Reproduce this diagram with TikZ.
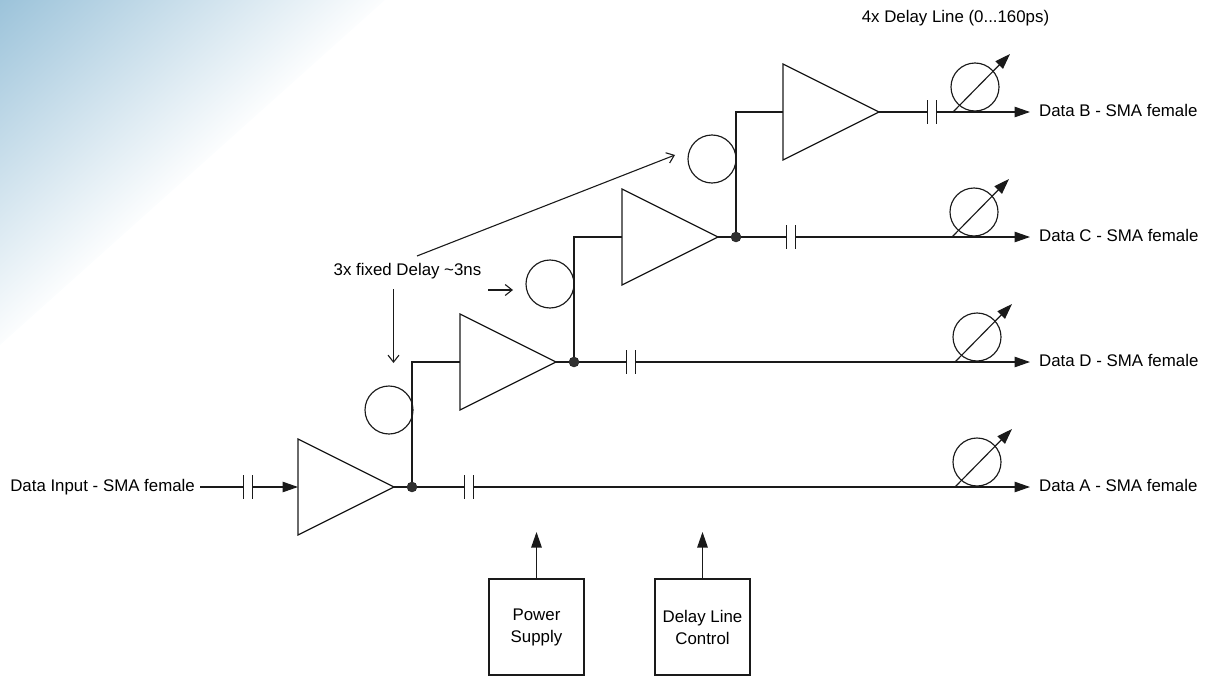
\documentclass[tikz,border=0pt]{standalone}
\usepackage{fontspec}
\setmainfont{Liberation Sans}
\usepackage{xcolor}
\usetikzlibrary{arrows.meta,positioning,shapes.geometric}
\definecolor{cornerblue}{HTML}{9CC3DA}
\definecolor{wiregray}{HTML}{1A1A1A}
\pgfdeclareverticalshading{cornerfade}{100bp}{color(0bp)=(white); color(38.6bp)=(white); color(60.7bp)=(cornerblue); color(100bp)=(cornerblue)}
\tikzset{
  wire/.style={wiregray,line width=1.15pt},
  signal/.style={wire,-{Triangle[length=15.5pt,width=10.5pt]}},
  note/.style={wiregray,line width=1.1pt,-{Straight Barb[length=7pt,width=11pt]}},
  amp/.style={draw=wiregray,line width=1.15pt,isosceles triangle,isosceles triangle stretches,
    minimum width=96pt,minimum height=96pt,inner sep=0pt,outer sep=0pt,anchor=lower side},
  delaycircle/.style={circle,draw=wiregray,line width=1.15pt,minimum size=48pt,inner sep=0pt,outer sep=0pt},
  junction/.style={circle,fill=wiregray!90,draw=wiregray,minimum size=10pt,inner sep=0pt,outer sep=0pt},
  capnode/.style={minimum width=8.5pt,minimum height=24pt,inner sep=0pt,outer sep=0pt},
  portlabel/.style={font=\fontsize{16.85}{20}\selectfont,text height=12pt,text depth=3.5pt,inner xsep=9pt,inner ysep=0pt,anchor=west},
  plainlabel/.style={font=\fontsize{16.85}{20}\selectfont,inner sep=0pt},
  supplybox/.style={draw=wiregray,line width=1.15pt,minimum width=95pt,minimum height=96pt,align=center,
    inner sep=0pt,outer sep=0pt,font=\fontsize{16.85}{22}\selectfont}
}
\begin{document}
\begin{tikzpicture}[x=1pt,y=-1pt]
\useasboundingbox (0,0) rectangle (1210,677);
% background corner
\begin{scope}
\clip (0,0) -- (385,0) -- (0,345) -- cycle;
\shade[shading=cornerfade,shading angle=42] (-214,-204.5) rectangle (386,395.5);
\end{scope}
% amplifier chain
\node[amp] (ampa) at (298,487) {};
\node[amp] (ampb) at (460,362) {};
\node[amp] (ampc) at (622,237) {};
\node[amp] (ampd) at (783,112) {};
\node[junction] (joina) at (412,487) {};
\node[junction] (joinb) at (574,362) {};
\node[junction] (joinc) at (736,237) {};
\node[delaycircle] (delaya) at (389,410) {};
\node[delaycircle] (delayb) at (550,284) {};
\node[delaycircle] (delayc) at (712,159) {};
\node[capnode] (capin) at (248,487) {};
\node[capnode] (capa) at (469,487) {};
\node[capnode] (capd) at (631,362) {};
\node[capnode] (capc) at (791,237) {};
\node[capnode] (capb) at (932,112) {};
\foreach \c in {capin,capa,capd,capc,capb}
  \draw[wire] (\c.north west) -- (\c.south west) (\c.north east) -- (\c.south east);
% labels
\node[portlabel,inner xsep=5pt,anchor=east] (input) at (200,487) {Data Input - SMA female};
\node[portlabel] (outb) at (1030,112) {Data B - SMA female};
\node[portlabel] (outc) at (1030,237) {Data C - SMA female};
\node[portlabel] (outd) at (1030,362) {Data D - SMA female};
\node[portlabel] (outa) at (1030,487) {Data A - SMA female};
\node[plainlabel] (dialnote) at (955.5,18) {4x Delay Line (0...160ps)};
\node[plainlabel] (fixednote) at (407.5,271.5) {3x fixed Delay \textasciitilde3ns};
% wires
\draw[wire] (input.east) -- (capin.west);
\draw[signal] (capin.east) -- (ampa.lower side);
\draw[wire] (ampa.apex) -- (joina) -- (capa.west);
\draw[wire] (ampb.apex) -- (joinb) -- (capd.west);
\draw[wire] (ampc.apex) -- (joinc) -- (capc.west);
\draw[wire] (ampd.apex) -- (capb.west);
\draw[wire] (joina) |- (ampb.lower side);
\draw[wire] (joinb) |- (ampc.lower side);
\draw[wire] (joinc) |- (ampd.lower side);
\draw[signal] (capb.east) -- (outb.west);
\draw[signal] (capc.east) -- (outc.west);
\draw[signal] (capd.east) -- (outd.west);
\draw[signal] (capa.east) -- (outa.west);
% delay lines
\foreach \n/\x/\y in {b/975/112,c/974/237,d/977/362,a/977/487}{
  \node[delaycircle] (dial\n) at (\x,\y-25) {};
  \coordinate (dialfoot\n) at (\x-22,\y);
  \coordinate (dialtip\n) at (\x+35,\y-58);
  \draw[signal] (dialfoot\n) -- (dialtip\n);
}
% notes
\coordinate (notea) at (393.5,289);
\coordinate (noteae) at (393.5,363);
\coordinate (noteb) at (488,290);
\coordinate (notebe) at (513,290);
\coordinate (notec) at (417,256);
\coordinate (notece) at (675,155);
\draw[note] (notea) -- (noteae);
\draw[note] (noteb) -- (notebe);
\draw[note] (notec) -- (notece);
% supply blocks
\node[supplybox] (power) at (536.5,627) {Power\\Supply};
\node[supplybox] (control) at (702.5,627) {Delay Line\\Control};
\coordinate (powerup) at (536.5,532);
\coordinate (controlup) at (702.5,532);
\draw[signal] (power.north) -- (powerup);
\draw[signal] (control.north) -- (controlup);
\end{tikzpicture}
\end{document}
